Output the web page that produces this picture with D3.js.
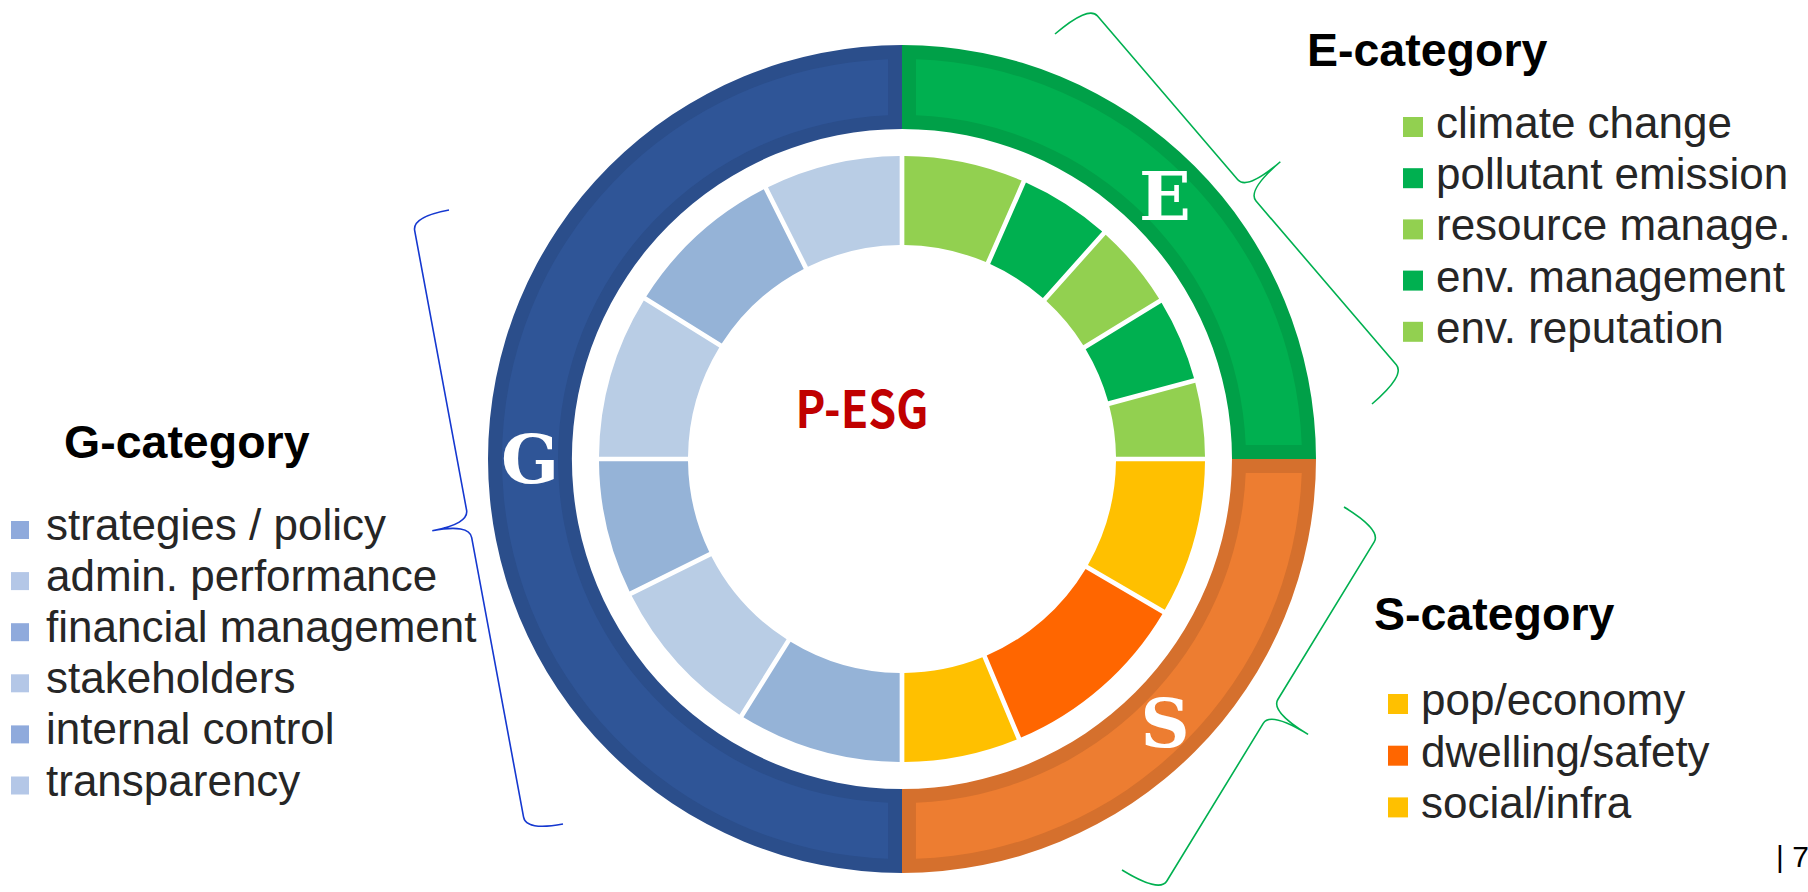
<!DOCTYPE html>
<html>
<head>
<meta charset="utf-8">
<script src="https://cdn.jsdelivr.net/npm/d3@7"></script>
<style>
  html, body { margin: 0; padding: 0; background: #ffffff; }
  svg { display: block; }
</style>
</head>
<body>
<svg id="chart" width="1808" height="892"></svg>
<script>
// ---------------- DATA ----------------
const categories = ["E", "S", "G"];
const categoryTitles = ["E-category", "S-category", "G-category"];

const eItems  = ["climate change", "pollutant emission", "resource manage.", "env. management", "env. reputation"];
const eShares = [23.7, 18.1, 16.7, 16.5, 15.0];

const sItems  = ["pop/economy", "dwelling/safety", "social/infra"];
const sShares = [30.3, 37.0, 22.7];

const gItems  = ["strategies / policy", "admin. performance", "financial management", "stakeholders", "internal control", "transparency"];
const gShares = [32.0, 31.6, 26.4, 32.0, 31.3, 26.7];

const centerLabel = "P-ESG";
const pageLabel = "| 7";

// ---------------- STYLE ----------------
const outerFill   = { E: "#00B050", S: "#ED7D31", G: "#2F5597" };
const outerBorder = { E: "#00A048", S: "#D5702D", G: "#2B4E8B" };
const ringColors  = {
  E: ["#92D050", "#00B050"],
  S: ["#FFC000", "#FF6600"],
  G: ["#95B3D7", "#B9CDE5"]
};
const legendColors = {
  E: ["#92D050", "#00B050"],
  S: ["#FFC000", "#FF6600"],
  G: ["#8FAADC", "#B4C7E7"]
};
const FONT = "'Liberation Sans', Arial, sans-serif";

const W = 1808, H = 892;
const cx = 902, cy = 459;

const svg = d3.select("#chart");
svg.append("rect").attr("width", W).attr("height", H).attr("fill", "#fff");

// ---------------- RINGS ----------------
const groups = [
  { key: "E", items: eItems, shares: eShares },
  { key: "S", items: sItems, shares: sShares },
  { key: "G", items: gItems, shares: gShares }
];

const catTotals = groups.map(g => d3.sum(g.shares));
const pie = d3.pie().sort(null).value(d => d.value).startAngle(0).endAngle(2 * Math.PI);

const chart = svg.append("g").attr("transform", `translate(${cx},${cy})`);

// outer category ring
const outerData = pie(categories.map((c, i) => ({ key: c, value: catTotals[i] })));
const arcOuter = d3.arc().innerRadius(330).outerRadius(414).padAngle(0);
const arcOuterInset = d3.arc().innerRadius(344).outerRadius(400).padAngle(0.28).padRadius(100);

chart.selectAll("path.outer").data(outerData).join("path")
  .attr("class", "outer")
  .attr("d", arcOuter)
  .attr("fill", d => outerBorder[d.data.key]);
chart.selectAll("path.outerIn").data(outerData).join("path")
  .attr("class", "outerIn")
  .attr("d", arcOuterInset)
  .attr("fill", d => outerFill[d.data.key]);

chart.selectAll("text.cat").data(outerData).join("text")
  .attr("class", "cat")
  .attr("x", d => arcOuter.centroid(d)[0])
  .attr("y", d => arcOuter.centroid(d)[1])
  .attr("dy", "0.36em")
  .attr("text-anchor", "middle")
  .attr("font-family", "'DejaVu Serif', serif")
  .attr("font-weight", "bold")
  .attr("font-size", 68)
  .attr("fill", "#fff")
  .text(d => d.data.key);

// inner item ring
const innerRows = [];
groups.forEach(g => g.shares.forEach((v, i) => innerRows.push({ key: g.key, idx: i, value: v, name: g.items[i] })));
const innerData = pie(innerRows);
const arcInner = d3.arc().innerRadius(214).outerRadius(303).padAngle(0.047).padRadius(100);

chart.selectAll("path.inner").data(innerData).join("path")
  .attr("class", "inner")
  .attr("d", arcInner)
  .attr("fill", d => ringColors[d.data.key][d.data.idx % 2]);

// center label
svg.append("text")
  .attr("x", 862).attr("y", 428)
  .attr("text-anchor", "middle")
  .attr("font-family", "'Noto Sans CJK KR', 'Noto Sans', sans-serif")
  .attr("font-weight", "bold")
  .attr("font-size", 51)
  .attr("textLength", 133)
  .attr("lengthAdjust", "spacingAndGlyphs")
  .attr("fill", "#C00000")
  .text(centerLabel);

// ---------------- LEGENDS ----------------
const legendLayout = {
  E: { titleX: 1307, titleY: 66,  sqX: 1403, textX: 1436, base: 138, step: 51.2, sq: 20 },
  S: { titleX: 1374, titleY: 630, sqX: 1388, textX: 1421, base: 715, step: 51.7, sq: 20 },
  G: { titleX: 64,   titleY: 458, sqX: 11,   textX: 46,   base: 540, step: 51.1, sq: 18 }
};

groups.forEach((g, gi) => {
  const L = legendLayout[g.key];
  const lg = svg.append("g").attr("class", "legend-" + g.key);
  lg.append("text")
    .attr("x", L.titleX).attr("y", L.titleY)
    .attr("font-family", FONT).attr("font-weight", "bold")
    .attr("font-size", 46.5).attr("fill", "#000")
    .text(categoryTitles[gi]);
  const rows = lg.selectAll("g.row").data(g.items).join("g").attr("class", "row");
  rows.append("rect")
    .attr("x", L.sqX)
    .attr("y", (d, i) => L.base + i * L.step - L.sq - 1)
    .attr("width", L.sq).attr("height", L.sq)
    .attr("fill", (d, i) => legendColors[g.key][i % 2]);
  rows.append("text")
    .attr("x", L.textX)
    .attr("y", (d, i) => L.base + i * L.step)
    .attr("font-family", FONT).attr("font-size", 44)
    .attr("fill", "#262626")
    .text(d => d);
});

// ---------------- BRACES ----------------
function bracePath(a, b, w, r) {
  const dx = b[0] - a[0], dy = b[1] - a[1];
  const len = Math.hypot(dx, dy);
  const ux = dx / len, uy = dy / len;
  let nx = uy, ny = -ux;
  const mx = (a[0] + b[0]) / 2 - cx, my = (a[1] + b[1]) / 2 - cy;
  if (nx * mx + ny * my < 0) { nx = -nx; ny = -ny; }
  const hw = w / 2;
  const P = (u, v) => [a[0] + u * ux + v * nx, a[1] + u * uy + v * ny];
  const p = d3.path();
  const m = len / 2;
  let q;
  q = P(0, 0); p.moveTo(q[0], q[1]);
  let c = P(0, hw), e = P(r, hw); p.quadraticCurveTo(c[0], c[1], e[0], e[1]);
  q = P(m - r, hw); p.lineTo(q[0], q[1]);
  c = P(m, hw); e = P(m, w); p.quadraticCurveTo(c[0], c[1], e[0], e[1]);
  c = P(m, hw); e = P(m + r, hw); p.quadraticCurveTo(c[0], c[1], e[0], e[1]);
  q = P(len - r, hw); p.lineTo(q[0], q[1]);
  c = P(len, hw); e = P(len, 0); p.quadraticCurveTo(c[0], c[1], e[0], e[1]);
  return p.toString();
}

const braces = [
  { a: [1055, 34],  b: [1372, 404], w: 88, color: "#00B050" },
  { a: [1344, 507], b: [1122, 870], w: 88, color: "#00B050" },
  { a: [449, 210],  b: [563, 824],  w: 75, color: "#1538D0" }
];
svg.selectAll("path.brace").data(braces).join("path")
  .attr("class", "brace")
  .attr("d", d => bracePath(d.a, d.b, d.w, 14))
  .attr("fill", "none")
  .attr("stroke", d => d.color)
  .attr("stroke-width", 1.6);

// page number
svg.append("text")
  .attr("x", 1776).attr("y", 867)
  .attr("font-family", FONT).attr("font-size", 30)
  .attr("fill", "#000")
  .text(pageLabel);
</script>
</body>
</html>
